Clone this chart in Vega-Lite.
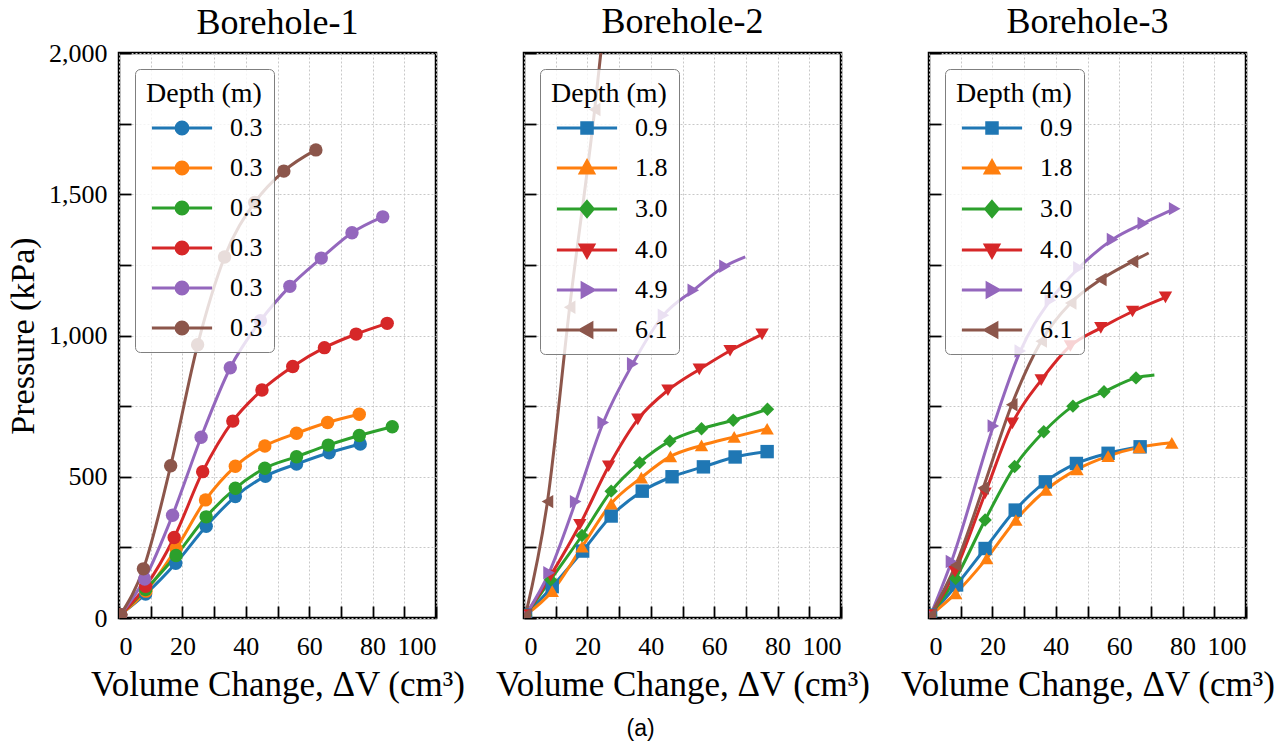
{
  "$schema": "https://vega.github.io/schema/vega-lite/v6.json",
  "background": "white",
  "padding": {"left": 5, "top": 2, "right": 5, "bottom": 2},
  "title": {"text": "(a)", "orient": "bottom", "font": "Liberation Sans", "fontSize": 23, "fontWeight": "normal", "color": "black", "anchor": "middle", "offset": 15},
  "spacing": 88,
  "bounds": "flush",
  "datasets": {
    "pm": [
      {"bh":1,"d":"0.3","s":"1","v":0.5,"p":12,"m":1},{"bh":1,"d":"0.3","s":"1","v":8.4,"p":85,"m":1},{"bh":1,"d":"0.3","s":"1","v":17.9,"p":194,"m":1},{"bh":1,"d":"0.3","s":"1","v":27.5,"p":325,"m":1},{"bh":1,"d":"0.3","s":"1","v":36.7,"p":430,"m":1},{"bh":1,"d":"0.3","s":"1","v":46.2,"p":502,"m":1},{"bh":1,"d":"0.3","s":"1","v":56,"p":545,"m":1},{"bh":1,"d":"0.3","s":"1","v":66.3,"p":585,"m":1},{"bh":1,"d":"0.3","s":"1","v":76.1,"p":616,"m":1},
      {"bh":1,"d":"0.3","s":"2","v":0.5,"p":12,"m":1},{"bh":1,"d":"0.3","s":"2","v":8.5,"p":95,"m":1},{"bh":1,"d":"0.3","s":"2","v":18,"p":245,"m":1},{"bh":1,"d":"0.3","s":"2","v":27.3,"p":418,"m":1},{"bh":1,"d":"0.3","s":"2","v":36.7,"p":537,"m":1},{"bh":1,"d":"0.3","s":"2","v":46,"p":609,"m":1},{"bh":1,"d":"0.3","s":"2","v":56,"p":654,"m":1},{"bh":1,"d":"0.3","s":"2","v":65.8,"p":692,"m":1},{"bh":1,"d":"0.3","s":"2","v":75.8,"p":721,"m":1},
      {"bh":1,"d":"0.3","s":"3","v":0.5,"p":12,"m":1},{"bh":1,"d":"0.3","s":"3","v":8.4,"p":101,"m":1},{"bh":1,"d":"0.3","s":"3","v":18,"p":221,"m":1},{"bh":1,"d":"0.3","s":"3","v":27.5,"p":358,"m":1},{"bh":1,"d":"0.3","s":"3","v":36.7,"p":459,"m":1},{"bh":1,"d":"0.3","s":"3","v":46,"p":530,"m":1},{"bh":1,"d":"0.3","s":"3","v":56,"p":571,"m":1},{"bh":1,"d":"0.3","s":"3","v":66,"p":612,"m":1},{"bh":1,"d":"0.3","s":"3","v":75.8,"p":646,"m":1},{"bh":1,"d":"0.3","s":"3","v":86.2,"p":677,"m":1},
      {"bh":1,"d":"0.3","s":"4","v":0.5,"p":12,"m":1},{"bh":1,"d":"0.3","s":"4","v":8.4,"p":112,"m":1},{"bh":1,"d":"0.3","s":"4","v":17.4,"p":285,"m":1},{"bh":1,"d":"0.3","s":"4","v":26.4,"p":518,"m":1},{"bh":1,"d":"0.3","s":"4","v":35.9,"p":697,"m":1},{"bh":1,"d":"0.3","s":"4","v":45.1,"p":807,"m":1},{"bh":1,"d":"0.3","s":"4","v":54.8,"p":890,"m":1},{"bh":1,"d":"0.3","s":"4","v":64.8,"p":957,"m":1},{"bh":1,"d":"0.3","s":"4","v":74.8,"p":1005,"m":1},{"bh":1,"d":"0.3","s":"4","v":84.6,"p":1043,"m":1},
      {"bh":1,"d":"0.3","s":"5","v":0.5,"p":12,"m":1},{"bh":1,"d":"0.3","s":"5","v":8.1,"p":138,"m":1},{"bh":1,"d":"0.3","s":"5","v":16.9,"p":364,"m":1},{"bh":1,"d":"0.3","s":"5","v":25.9,"p":640,"m":1},{"bh":1,"d":"0.3","s":"5","v":35.1,"p":886,"m":1},{"bh":1,"d":"0.3","s":"5","v":44.6,"p":1052,"m":1},{"bh":1,"d":"0.3","s":"5","v":53.9,"p":1174,"m":1},{"bh":1,"d":"0.3","s":"5","v":63.8,"p":1274,"m":1},{"bh":1,"d":"0.3","s":"5","v":73.5,"p":1364,"m":1},{"bh":1,"d":"0.3","s":"5","v":83.2,"p":1420,"m":1},
      {"bh":1,"d":"0.3","s":"6","v":0.5,"p":12,"m":1},{"bh":1,"d":"0.3","s":"6","v":7.7,"p":174,"m":1},{"bh":1,"d":"0.3","s":"6","v":16.3,"p":539,"m":1},{"bh":1,"d":"0.3","s":"6","v":24.8,"p":967,"m":1},{"bh":1,"d":"0.3","s":"6","v":33.3,"p":1278,"m":1},{"bh":1,"d":"0.3","s":"6","v":42.8,"p":1471,"m":1},{"bh":1,"d":"0.3","s":"6","v":52,"p":1582,"m":1},{"bh":1,"d":"0.3","s":"6","v":62.1,"p":1657,"m":1},

      {"bh":2,"d":"0.9","s":"1","v":0.5,"p":10,"m":1},{"bh":2,"d":"0.9","s":"1","v":8.9,"p":111,"m":1},{"bh":2,"d":"0.9","s":"1","v":18.5,"p":237,"m":1},{"bh":2,"d":"0.9","s":"1","v":27.5,"p":361,"m":1},{"bh":2,"d":"0.9","s":"1","v":37.3,"p":449,"m":1},{"bh":2,"d":"0.9","s":"1","v":46.7,"p":500,"m":1},{"bh":2,"d":"0.9","s":"1","v":56.6,"p":535,"m":1},{"bh":2,"d":"0.9","s":"1","v":66.6,"p":570,"m":1},{"bh":2,"d":"0.9","s":"1","v":76.7,"p":589,"m":1},
      {"bh":2,"d":"1.8","s":"2","v":0.5,"p":10,"m":1},{"bh":2,"d":"1.8","s":"2","v":8.9,"p":95,"m":1},{"bh":2,"d":"1.8","s":"2","v":18.3,"p":252,"m":1},{"bh":2,"d":"1.8","s":"2","v":27.5,"p":405,"m":1},{"bh":2,"d":"1.8","s":"2","v":37,"p":497,"m":1},{"bh":2,"d":"1.8","s":"2","v":46.2,"p":572,"m":1},{"bh":2,"d":"1.8","s":"2","v":56,"p":611,"m":1},{"bh":2,"d":"1.8","s":"2","v":66.3,"p":641,"m":1},{"bh":2,"d":"1.8","s":"2","v":76.7,"p":670,"m":1},
      {"bh":2,"d":"3.0","s":"3","v":0.5,"p":10,"m":1},{"bh":2,"d":"3.0","s":"3","v":8.4,"p":135,"m":1},{"bh":2,"d":"3.0","s":"3","v":18.3,"p":292,"m":1},{"bh":2,"d":"3.0","s":"3","v":27.5,"p":449,"m":1},{"bh":2,"d":"3.0","s":"3","v":36.5,"p":550,"m":1},{"bh":2,"d":"3.0","s":"3","v":46,"p":626,"m":1},{"bh":2,"d":"3.0","s":"3","v":56,"p":670,"m":1},{"bh":2,"d":"3.0","s":"3","v":66,"p":700,"m":1},{"bh":2,"d":"3.0","s":"3","v":76.8,"p":739,"m":1},
      {"bh":2,"d":"4.0","s":"4","v":0.5,"p":10,"m":1},{"bh":2,"d":"4.0","s":"4","v":8.4,"p":150,"m":1},{"bh":2,"d":"4.0","s":"4","v":17.6,"p":330,"m":1},{"bh":2,"d":"4.0","s":"4","v":26.7,"p":537,"m":1},{"bh":2,"d":"4.0","s":"4","v":35.9,"p":703,"m":1},{"bh":2,"d":"4.0","s":"4","v":45.4,"p":806,"m":1},{"bh":2,"d":"4.0","s":"4","v":55.3,"p":880,"m":1},{"bh":2,"d":"4.0","s":"4","v":65,"p":946,"m":1},{"bh":2,"d":"4.0","s":"4","v":75.1,"p":1004,"m":1},
      {"bh":2,"d":"4.9","s":"5","v":0.5,"p":10,"m":1},{"bh":2,"d":"4.9","s":"5","v":7.9,"p":160,"m":1},{"bh":2,"d":"4.9","s":"5","v":16.3,"p":412,"m":1},{"bh":2,"d":"4.9","s":"5","v":25,"p":692,"m":1},{"bh":2,"d":"4.9","s":"5","v":34.3,"p":900,"m":1},{"bh":2,"d":"4.9","s":"5","v":44,"p":1072,"m":1},{"bh":2,"d":"4.9","s":"5","v":53.4,"p":1160,"m":1},{"bh":2,"d":"4.9","s":"5","v":63.4,"p":1245,"m":1},{"bh":2,"d":"4.9","s":"5","v":69.8,"p":1278,"m":0},
      {"bh":2,"d":"6.1","s":"6","v":0.5,"p":10,"m":1},{"bh":2,"d":"6.1","s":"6","v":7.4,"p":412,"m":1},{"bh":2,"d":"6.1","s":"6","v":14.4,"p":1100,"m":1},{"bh":2,"d":"6.1","s":"6","v":22.3,"p":1800,"m":1},{"bh":2,"d":"6.1","s":"6","v":25,"p":2080,"m":0},

      {"bh":3,"d":"0.9","s":"1","v":0.5,"p":10,"m":1},{"bh":3,"d":"0.9","s":"1","v":8.7,"p":117,"m":1},{"bh":3,"d":"0.9","s":"1","v":17.7,"p":246,"m":1},{"bh":3,"d":"0.9","s":"1","v":27.2,"p":382,"m":1},{"bh":3,"d":"0.9","s":"1","v":36.7,"p":482,"m":1},{"bh":3,"d":"0.9","s":"1","v":46.5,"p":547,"m":1},{"bh":3,"d":"0.9","s":"1","v":56.5,"p":583,"m":1},{"bh":3,"d":"0.9","s":"1","v":66.6,"p":606,"m":1},
      {"bh":3,"d":"1.8","s":"2","v":0.5,"p":10,"m":1},{"bh":3,"d":"1.8","s":"2","v":8.4,"p":87,"m":1},{"bh":3,"d":"1.8","s":"2","v":18.2,"p":211,"m":1},{"bh":3,"d":"1.8","s":"2","v":27.4,"p":347,"m":1},{"bh":3,"d":"1.8","s":"2","v":36.9,"p":453,"m":1},{"bh":3,"d":"1.8","s":"2","v":46.7,"p":526,"m":1},{"bh":3,"d":"1.8","s":"2","v":56.5,"p":573,"m":1},{"bh":3,"d":"1.8","s":"2","v":66.3,"p":604,"m":1},{"bh":3,"d":"1.8","s":"2","v":76.6,"p":620,"m":1},
      {"bh":3,"d":"3.0","s":"3","v":0.5,"p":10,"m":1},{"bh":3,"d":"3.0","s":"3","v":8.4,"p":140,"m":1},{"bh":3,"d":"3.0","s":"3","v":17.7,"p":347,"m":1},{"bh":3,"d":"3.0","s":"3","v":27,"p":536,"m":1},{"bh":3,"d":"3.0","s":"3","v":36.2,"p":659,"m":1},{"bh":3,"d":"3.0","s":"3","v":45.4,"p":750,"m":1},{"bh":3,"d":"3.0","s":"3","v":55.2,"p":801,"m":1},{"bh":3,"d":"3.0","s":"3","v":65.3,"p":850,"m":1},{"bh":3,"d":"3.0","s":"3","v":71.1,"p":860,"m":0},
      {"bh":3,"d":"4.0","s":"4","v":0.5,"p":10,"m":1},{"bh":3,"d":"4.0","s":"4","v":8.2,"p":164,"m":1},{"bh":3,"d":"4.0","s":"4","v":17.7,"p":441,"m":1},{"bh":3,"d":"4.0","s":"4","v":26.3,"p":689,"m":1},{"bh":3,"d":"4.0","s":"4","v":35.4,"p":842,"m":1},{"bh":3,"d":"4.0","s":"4","v":44.6,"p":963,"m":1},{"bh":3,"d":"4.0","s":"4","v":54.2,"p":1027,"m":1},{"bh":3,"d":"4.0","s":"4","v":64.2,"p":1085,"m":1},{"bh":3,"d":"4.0","s":"4","v":74.6,"p":1135,"m":1},
      {"bh":3,"d":"4.9","s":"5","v":0.5,"p":10,"m":1},{"bh":3,"d":"4.9","s":"5","v":7.1,"p":200,"m":1},{"bh":3,"d":"4.9","s":"5","v":20.3,"p":680,"m":1},{"bh":3,"d":"4.9","s":"5","v":28.8,"p":945,"m":1},{"bh":3,"d":"4.9","s":"5","v":38.3,"p":1125,"m":1},{"bh":3,"d":"4.9","s":"5","v":47.3,"p":1240,"m":1},{"bh":3,"d":"4.9","s":"5","v":57.9,"p":1340,"m":1},{"bh":3,"d":"4.9","s":"5","v":67.6,"p":1397,"m":1},{"bh":3,"d":"4.9","s":"5","v":77.5,"p":1449,"m":1},
      {"bh":3,"d":"6.1","s":"6","v":0.5,"p":10,"m":1},{"bh":3,"d":"6.1","s":"6","v":8.4,"p":187,"m":1},{"bh":3,"d":"6.1","s":"6","v":17.1,"p":460,"m":1},{"bh":3,"d":"6.1","s":"6","v":26.1,"p":755,"m":1},{"bh":3,"d":"6.1","s":"6","v":35.4,"p":980,"m":1},{"bh":3,"d":"6.1","s":"6","v":44.7,"p":1115,"m":1},{"bh":3,"d":"6.1","s":"6","v":54.2,"p":1198,"m":1},{"bh":3,"d":"6.1","s":"6","v":64.2,"p":1262,"m":1},{"bh":3,"d":"6.1","s":"6","v":69.3,"p":1292,"m":0}
    ]
  },
  "hconcat": [
    {
      "width": 317, "height": 565,
      "title": {"text": "Borehole-1", "offset": -2},
      "data": {"name": "pm"},
      "transform": [{"filter": "datum.bh == 1"}],
      "encoding": {
        "x": {"field": "v", "type": "quantitative", "scale": {"domain": [0, 100]},
              "axis": {"values": [0,10,20,30,40,50,60,70,80,90,100], "labelExpr": "datum.value % 20 == 0 ? datum.label : ''", "title": "Volume Change, ΔV (cm³)", "labelFont": "Liberation Serif"}},
        "y": {"field": "p", "type": "quantitative", "scale": {"domain": [0, 2000]},
              "axis": {"values": [0,250,500,750,1000,1250,1500,1750,2000], "labelExpr": "datum.value % 500 == 0 ? format(datum.value, ',') : ''", "title": "Pressure (kPa)", "labelPadding": 24, "titleFontSize": 34, "labelFont": "Liberation Serif"}},
        "color": {"field": "s", "type": "nominal",
                  "scale": {"domain": ["1","2","3","4","5","6"], "range": ["#1f77b4","#ff7f0e","#2ca02c","#d62728","#9467bd","#8c564b"]},
                  "legend": {"title": "Depth (m)", "labelExpr": "'0.3'", "labelFont": "Liberation Serif", "titleFont": "Liberation Serif",
                             "encode": {"symbols": {"update": {
                               "shape": {"value": "M-4.3,0H4.3M0.85,0A0.85,0.85,0,1,1,-0.85,0A0.85,0.85,0,1,1,0.85,0Z"},
                               "fill": {"signal": "['#1f77b4','#ff7f0e','#2ca02c','#d62728','#9467bd','#8c564b'][toNumber(datum.value)-1]"},
                               "stroke": {"signal": "['#1f77b4','#ff7f0e','#2ca02c','#d62728','#9467bd','#8c564b'][toNumber(datum.value)-1]"},
                               "strokeWidth": {"value": 3}, "size": {"value": 196}, "opacity": {"value": 1}}}}}}
      },
      "layer": [
        {"mark": {"type": "line", "strokeWidth": 3, "interpolate": "monotone", "clip": true}},
        {"transform": [{"filter": "datum.m == 1"}],
         "mark": {"type": "point", "filled": true, "opacity": 1, "size": 180, "clip": true},
         "encoding": {"shape": {"field": "d", "type": "nominal", "legend": null,
                     "scale": {"domain": ["0.3"], "range": ["circle"]}}}}
      ]
    },
    {
      "width": 317, "height": 565,
      "title": {"text": "Borehole-2"},
      "data": {"name": "pm"},
      "transform": [{"filter": "datum.bh == 2"}],
      "encoding": {
        "x": {"field": "v", "type": "quantitative", "scale": {"domain": [0, 100]},
              "axis": {"values": [0,10,20,30,40,50,60,70,80,90,100], "labelExpr": "datum.value % 20 == 0 ? datum.label : ''", "title": "Volume Change, ΔV (cm³)", "labelFont": "Liberation Serif"}},
        "y": {"field": "p", "type": "quantitative", "scale": {"domain": [0, 2000]},
              "axis": {"values": [0,250,500,750,1000,1250,1500,1750,2000], "labels": false, "title": null}},
        "color": {"field": "s", "type": "nominal",
                  "scale": {"domain": ["1","2","3","4","5","6"], "range": ["#1f77b4","#ff7f0e","#2ca02c","#d62728","#9467bd","#8c564b"]},
                  "legend": {"title": "Depth (m)", "labelExpr": "['0.9','1.8','3.0','4.0','4.9','6.1'][toNumber(datum.value)-1]", "labelFont": "Liberation Serif", "titleFont": "Liberation Serif",
                             "encode": {"symbols": {"update": {
                               "shape": {"signal": "['M-4.3,0H4.3M-0.75,-0.75H0.75V0.75H-0.75Z','M-4.3,0H4.3M0,-1L0.95,0.7H-0.95Z','M-4.3,0H4.3M0,-1.05L0.9,0L0,1.05L-0.9,0Z','M-4.3,0H4.3M0,1L-0.95,-0.7H0.95Z','M-4.3,0H4.3M1,0L-0.7,0.95V-0.95Z','M-4.3,0H4.3M-1,0L0.7,-0.95V0.95Z'][toNumber(datum.value)-1]"},
                               "fill": {"signal": "['#1f77b4','#ff7f0e','#2ca02c','#d62728','#9467bd','#8c564b'][toNumber(datum.value)-1]"},
                               "stroke": {"signal": "['#1f77b4','#ff7f0e','#2ca02c','#d62728','#9467bd','#8c564b'][toNumber(datum.value)-1]"},
                               "strokeWidth": {"value": 3}, "size": {"value": 196}, "opacity": {"value": 1}}}}}}
      },
      "layer": [
        {"mark": {"type": "line", "strokeWidth": 3, "interpolate": "monotone", "clip": true}},
        {"transform": [{"filter": "datum.m == 1"}],
         "mark": {"type": "point", "filled": true, "opacity": 1, "size": 180, "clip": true},
         "encoding": {"shape": {"field": "d", "type": "nominal", "legend": null,
                     "scale": {"domain": ["0.9","1.8","3.0","4.0","4.9","6.1"], "range": ["square","triangle-up","diamond","triangle-down","triangle-right","triangle-left"]}}}}
      ]
    },
    {
      "width": 317, "height": 565,
      "title": {"text": "Borehole-3"},
      "data": {"name": "pm"},
      "transform": [{"filter": "datum.bh == 3"}],
      "encoding": {
        "x": {"field": "v", "type": "quantitative", "scale": {"domain": [0, 100]},
              "axis": {"values": [0,10,20,30,40,50,60,70,80,90,100], "labelExpr": "datum.value % 20 == 0 ? datum.label : ''", "title": "Volume Change, ΔV (cm³)", "labelFont": "Liberation Serif"}},
        "y": {"field": "p", "type": "quantitative", "scale": {"domain": [0, 2000]},
              "axis": {"values": [0,250,500,750,1000,1250,1500,1750,2000], "labels": false, "title": null}},
        "color": {"field": "s", "type": "nominal",
                  "scale": {"domain": ["1","2","3","4","5","6"], "range": ["#1f77b4","#ff7f0e","#2ca02c","#d62728","#9467bd","#8c564b"]},
                  "legend": {"title": "Depth (m)", "labelExpr": "['0.9','1.8','3.0','4.0','4.9','6.1'][toNumber(datum.value)-1]", "labelFont": "Liberation Serif", "titleFont": "Liberation Serif",
                             "encode": {"symbols": {"update": {
                               "shape": {"signal": "['M-4.3,0H4.3M-0.75,-0.75H0.75V0.75H-0.75Z','M-4.3,0H4.3M0,-1L0.95,0.7H-0.95Z','M-4.3,0H4.3M0,-1.05L0.9,0L0,1.05L-0.9,0Z','M-4.3,0H4.3M0,1L-0.95,-0.7H0.95Z','M-4.3,0H4.3M1,0L-0.7,0.95V-0.95Z','M-4.3,0H4.3M-1,0L0.7,-0.95V0.95Z'][toNumber(datum.value)-1]"},
                               "fill": {"signal": "['#1f77b4','#ff7f0e','#2ca02c','#d62728','#9467bd','#8c564b'][toNumber(datum.value)-1]"},
                               "stroke": {"signal": "['#1f77b4','#ff7f0e','#2ca02c','#d62728','#9467bd','#8c564b'][toNumber(datum.value)-1]"},
                               "strokeWidth": {"value": 3}, "size": {"value": 196}, "opacity": {"value": 1}}}}}}
      },
      "layer": [
        {"mark": {"type": "line", "strokeWidth": 3, "interpolate": "monotone", "clip": true}},
        {"transform": [{"filter": "datum.m == 1"}],
         "mark": {"type": "point", "filled": true, "opacity": 1, "size": 180, "clip": true},
         "encoding": {"shape": {"field": "d", "type": "nominal", "legend": null,
                     "scale": {"domain": ["0.9","1.8","3.0","4.0","4.9","6.1"], "range": ["square","triangle-up","diamond","triangle-down","triangle-right","triangle-left"]}}}}
      ]
    }
  ],
  "resolve": {"scale": {"color": "independent", "shape": "independent"}, "legend": {"color": "independent", "shape": "independent"}},
  "config": {
    "view": {"stroke": "black", "strokeWidth": 2.5},
    "axis": {"domain": false, "tickColor": "black", "tickWidth": 1.8, "tickSize": -12,
             "labelFont": "Liberation Serif", "labelFontSize": 26, "labelColor": "black", "labelPadding": 27,
             "titleFont": "Liberation Serif", "titleFontSize": 35, "titleFontWeight": "normal", "titleColor": "black", "titlePadding": 8,
             "grid": true, "gridColor": "#c8c8c8", "gridDash": [2, 2], "gridWidth": 1},
    "title": {"font": "Liberation Serif", "fontSize": 36, "fontWeight": "normal", "color": "black", "offset": 11},
    "legend": {"orient": "top-left", "offset": 16, "padding": 11, "fillColor": "rgba(255,255,255,0.8)", "strokeColor": "#7f7f7f", "cornerRadius": 5,
               "titleFont": "Liberation Serif", "titleFontSize": 28, "titleFontWeight": "normal", "titleColor": "black", "titlePadding": 7,
               "labelFont": "Liberation Serif", "labelFontSize": 26, "labelColor": "black",
               "symbolSize": 196, "symbolOffset": 23, "labelOffset": 35, "rowPadding": 14, "symbolOpacity": 1}
  }
}
